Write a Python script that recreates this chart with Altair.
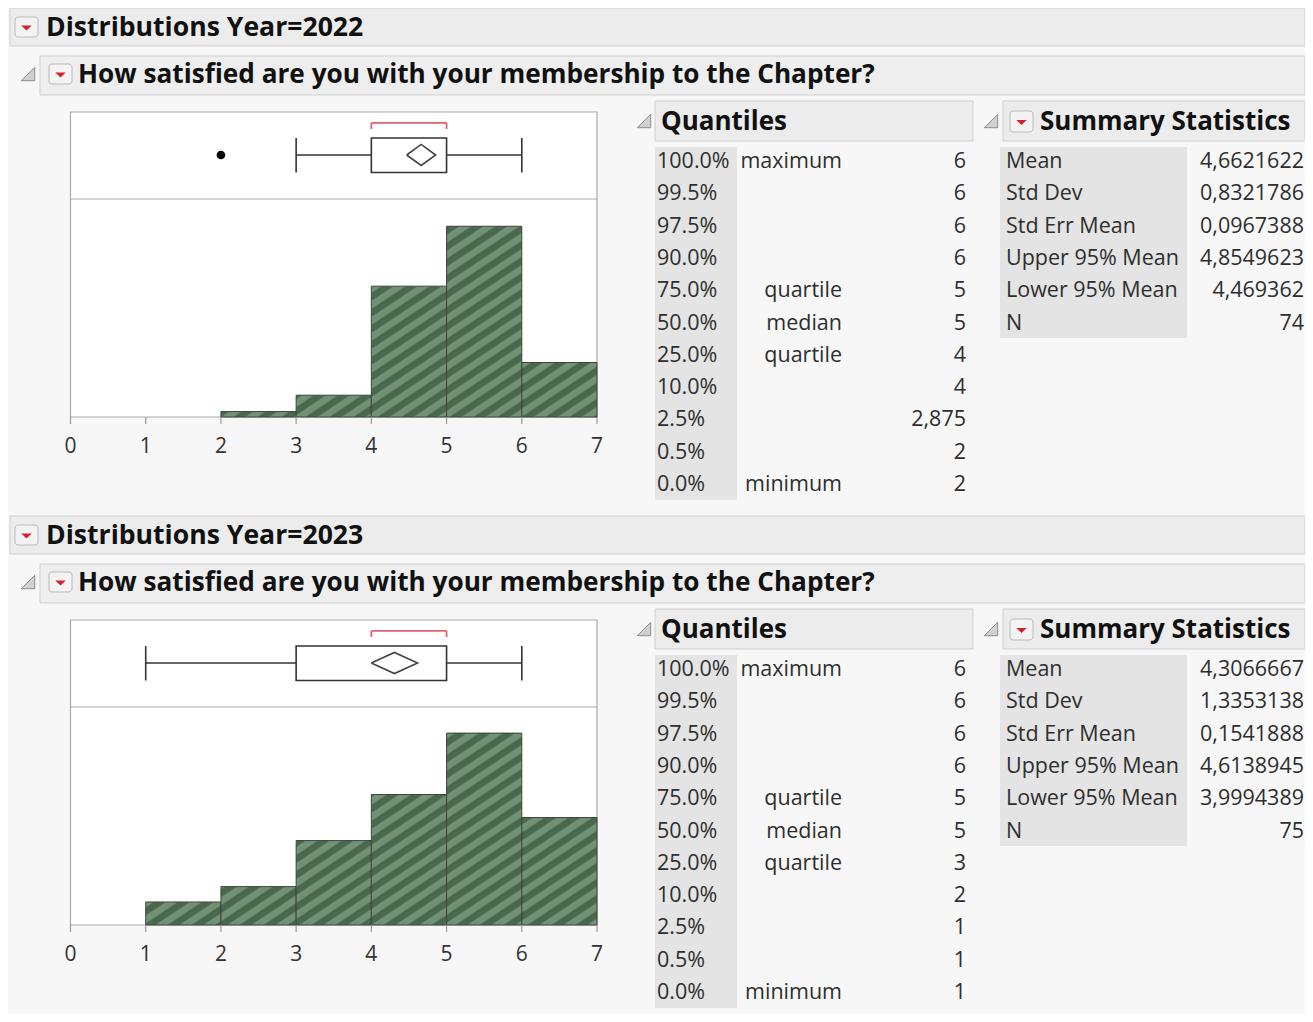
import math
import altair as alt
import pandas as pd

FONT = "Open Sans"

# ---------------- data ----------------
SECTION_TITLES = ["Distributions Year=2022", "Distributions Year=2023"]
QUESTION = "How satisfied are you with your membership to the Chapter?"
QUANT_TITLE = "Quantiles"
STAT_TITLE = "Summary Statistics"
TICK_VALUES = [0, 1, 2, 3, 4, 5, 6, 7]
TICK_LABELS = ["0", "1", "2", "3", "4", "5", "6", "7"]
BIN_LO = [0, 1, 2, 3, 4, 5, 6]
BIN_HI = [1, 2, 3, 4, 5, 6, 7]
COUNTS_2022 = [0, 0, 1, 4, 24, 35, 10]
COUNTS_2023 = [0, 3, 5, 11, 17, 25, 14]
COUNT_AXIS_MAX = [40, 28.4]
QUANT_LEVELS = ["100.0%", "99.5%", "97.5%", "90.0%", "75.0%", "50.0%",
                "25.0%", "10.0%", "2.5%", "0.5%", "0.0%"]
QUANT_NAMES = ["maximum", "", "", "", "quartile", "median", "quartile",
               "", "", "", "minimum"]
QUANT_2022 = ["6", "6", "6", "6", "5", "5", "4", "4", "2,875", "2", "2"]
QUANT_2023 = ["6", "6", "6", "6", "5", "5", "3", "2", "1", "1", "1"]
STAT_NAMES = ["Mean", "Std Dev", "Std Err Mean", "Upper 95% Mean",
              "Lower 95% Mean", "N"]
STAT_2022 = ["4,6621622", "0,8321786", "0,0967388", "4,8549623", "4,469362", "74"]
STAT_2023 = ["4,3066667", "1,3353138", "0,1541888", "4,6138945", "3,9994389", "75"]
# whisker low, Q1, Q3, whisker high
BOX_2022 = [3, 4, 5, 6]
BOX_2023 = [1, 3, 5, 6]
# mean, lower 95%, upper 95%
MEAN_CI_2022 = [4.6621622, 4.469362, 4.8549623]
MEAN_CI_2023 = [4.3066667, 3.9994389, 4.6138945]
SHORTEST_HALF_2022 = [4, 5]
SHORTEST_HALF_2023 = [4, 5]
OUTLIERS_2022 = [2]
OUTLIERS_2023 = []

# ---------------- layout / style ----------------
W, H = 1297, 1006
SEC = 508
BG = "#f7f7f7"
HDR_FILL = "#ececec"
HDR_STROKE = "#cfcfcf"
COL_FILL = "#e4e4e4"
TXT = "#2e2e2e"
PX0, PX1 = 62.5, 589
FR_T, FR_DIV, FR_B = 104, 191, 409
ROW0, ROW10 = 154, 477
ROW_FS = 21.5
HDR_FS = 26.6

DARK = (74, 104, 77)
LIGHT = (113, 146, 116)
P = 24.0
A = 1.5
F_D, F_R, F_L = 0.40, 0.10, 0.40


def one(**kw):
    d = {"k": [0]}
    for k, v in kw.items():
        d[k] = [v]
    return pd.DataFrame(d)


def rect(x, x2, y, y2, fill, stroke=None, sw=1.0, cr=0):
    kw = dict(fill=fill)
    if stroke:
        kw.update(stroke=stroke, strokeWidth=sw)
    else:
        kw.update(strokeWidth=0)
    if cr:
        kw["cornerRadius"] = cr
    return alt.Chart(one()).mark_rect(**kw).encode(
        x=alt.value(x), x2=alt.value(x2), y=alt.value(y), y2=alt.value(y2))


def label(text, x, y, size, bold=False, color=TXT, align="left"):
    return alt.Chart(one(t=text)).mark_text(
        font=FONT, fontSize=size, fontWeight="bold" if bold else "normal",
        color=color, align=align, baseline="middle").encode(
        x=alt.value(x), y=alt.value(y), text="t:N")


def red_icon(x0, y0, x1, y1):
    box = rect(x0, x1, y0, y1, "#f3f3f3", "#b9b9b9", 1, 3)
    tri = alt.Chart(one()).mark_point(
        shape="M-1,-0.5L1,-0.5L0,0.5Z", filled=True, fill="#d3222e",
        strokeWidth=0, size=110, opacity=1).encode(
        x=alt.value((x0 + x1) / 2), y=alt.value((y0 + y1) / 2 + 1))
    return [box, tri]


def disclosure(x, y):
    return alt.Chart(one()).mark_point(
        shape="M1,-1L1,1L-1,1Z", filled=True, fill="#d0d0d0", stroke="#8d8d8d",
        strokeWidth=1, size=180, opacity=1).encode(x=alt.value(x), y=alt.value(y))


def mix(c0, c1, f):
    return tuple(c0[i] + (c1[i] - c0[i]) * f for i in range(3))


def hexc(c):
    return "#%02x%02x%02x" % tuple(int(round(v)) for v in c)


KNOTS = [(0.0, DARK), (F_D * P, DARK), ((F_D + F_R) * P, LIGHT),
         ((F_D + F_R + F_L) * P, LIGHT), (P, DARK)]


def color_at(s):
    m = s % P
    for (s0, c0), (s1, c1) in zip(KNOTS, KNOTS[1:]):
        if s0 <= m <= s1:
            f = 0 if s1 == s0 else (m - s0) / (s1 - s0)
            return hexc(mix(c0, c1, f))
    return hexc(DARK)


def stripe_gradient(X0, Y0, w, h):
    L = w + A * h
    S0 = X0 + A * Y0
    stops = [(0.0, color_at(S0))]
    k = math.floor(S0 / P)
    while k * P <= S0 + L:
        for s0, _ in KNOTS[1:]:
            s = k * P + s0
            if S0 < s < S0 + L:
                stops.append(((s - S0) / L, color_at(s)))
        k += 1
    stops.append((1.0, color_at(S0 + L)))
    dx = L * w / (w * w + A * A * h * h)
    return alt.LinearGradient(
        gradient="linear", x1=0, y1=0, x2=dx, y2=A * dx * h / w,
        stops=[alt.GradientStop(offset=round(o, 5), color=c) for o, c in stops])


def section(idx, counts, ymax, qvals, svals, box, mci, sh, outliers):
    off = idx * SEC
    L = []
    # headers
    L.append(rect(2, W, 0 + off, 38 + off, HDR_FILL, HDR_STROKE))
    L += red_icon(7, 9 + off, 30, 29 + off)
    L.append(label(SECTION_TITLES[idx], 38, 20 + off, HDR_FS, True, "#111111"))
    L.append(rect(32, W, 48 + off, 87 + off, "#eeeeee", HDR_STROKE))
    L.append(disclosure(20, 66 + off))
    L += red_icon(41, 56 + off, 64, 76 + off)
    L.append(label(QUESTION, 70, 67 + off, 26.2, True, "#111111"))

    # plot frame
    L.append(rect(PX0, PX1, FR_T + off, FR_B + off, "#ffffff", "#a9a9a9", 1.2))

    xs = alt.Scale(domain=[0, 7], range=[PX0, PX1], nice=False, zero=False)
    ys = alt.Scale(domain=[0, ymax], range=[FR_B + off, FR_DIV + off],
                   nice=False, zero=False)
    ux = (PX1 - PX0) / 7.0
    uy = (FR_B - FR_DIV) / ymax
    hist = pd.DataFrame({"lo": BIN_LO, "hi": BIN_HI, "n": counts,
                         "base": [0] * len(counts)})
    for i in range(len(counts)):
        if counts[i] <= 0:
            continue
        w = ux * (BIN_HI[i] - BIN_LO[i])
        h = uy * counts[i]
        X0 = PX0 + ux * BIN_LO[i]
        Y0 = FR_B + off - h
        g = stripe_gradient(X0, Y0, w, h)
        L.append(alt.Chart(hist.iloc[[i]]).mark_rect(
            fill=g, stroke="#3c463c", strokeWidth=1).encode(
            x=alt.X("lo:Q", scale=xs, axis=None),
            x2="hi:Q",
            y=alt.Y("n:Q", scale=ys, axis=None),
            y2="base:Q"))

    # divider between box plot and histogram
    L.append(alt.Chart(one()).mark_rule(color="#a9a9a9", strokeWidth=1.2).encode(
        x=alt.value(PX0), x2=alt.value(PX1), y=alt.value(FR_DIV + off)))

    # axis ticks and labels
    ticks = pd.DataFrame({"v": TICK_VALUES, "lab": TICK_LABELS})
    L.append(alt.Chart(ticks).mark_rule(color="#9a9a9a", strokeWidth=1.2).encode(
        x=alt.X("v:Q", scale=xs, axis=None),
        y=alt.value(FR_B + off), y2=alt.value(FR_B + off + 7)))
    L.append(alt.Chart(ticks).mark_text(
        font=FONT, fontSize=21, color="#333333", baseline="middle").encode(
        x=alt.X("v:Q", scale=xs, axis=None),
        y=alt.value(FR_B + off + 30), text="lab:N"))

    # box plot
    bys = alt.Scale(domain=[0, 1], range=[FR_DIV + off, FR_T + off],
                    nice=False, zero=False)
    B_TOP, B_BOT, B_MID, D_H = 0.701, 0.305, 0.506, 0.121
    lo, q1, q3, hi = box
    whisk = pd.DataFrame({"a": [lo, q3], "b": [q1, hi], "y": [B_MID, B_MID]})
    L.append(alt.Chart(whisk).mark_rule(color="#333333", strokeWidth=1.6).encode(
        x=alt.X("a:Q", scale=xs, axis=None), x2="b:Q",
        y=alt.Y("y:Q", scale=bys, axis=None)))
    caps = pd.DataFrame({"v": [lo, hi], "t": [B_TOP, B_TOP], "b": [B_BOT, B_BOT]})
    L.append(alt.Chart(caps).mark_rule(color="#333333", strokeWidth=1.6).encode(
        x=alt.X("v:Q", scale=xs, axis=None),
        y=alt.Y("t:Q", scale=bys, axis=None), y2="b:Q"))
    bx = pd.DataFrame({"q1": [q1], "q3": [q3], "t": [B_TOP], "b": [B_BOT]})
    L.append(alt.Chart(bx).mark_rect(fill="#ffffff", stroke="#333333",
                                     strokeWidth=1.6).encode(
        x=alt.X("q1:Q", scale=xs, axis=None), x2="q3:Q",
        y=alt.Y("t:Q", scale=bys, axis=None), y2="b:Q"))
    mean, lcl, ucl = mci
    dia = pd.DataFrame({
        "x": [lcl, mean, ucl, mean, lcl],
        "y": [B_MID, B_MID + D_H, B_MID, B_MID - D_H, B_MID],
        "o": [0, 1, 2, 3, 4]})
    L.append(alt.Chart(dia).mark_line(color="#444444", strokeWidth=1.6).encode(
        x=alt.X("x:Q", scale=xs, axis=None),
        y=alt.Y("y:Q", scale=bys, axis=None), order="o:Q"))
    br = pd.DataFrame({"a": [sh[0]], "b": [sh[1]], "y": [0.874]})
    L.append(alt.Chart(br).mark_rule(color="#e0606e", strokeWidth=1.8).encode(
        x=alt.X("a:Q", scale=xs, axis=None), x2="b:Q",
        y=alt.Y("y:Q", scale=bys, axis=None)))
    brt = pd.DataFrame({"v": sh, "t": [0.874, 0.874], "b": [0.805, 0.805]})
    L.append(alt.Chart(brt).mark_rule(color="#e0606e", strokeWidth=1.8).encode(
        x=alt.X("v:Q", scale=xs, axis=None),
        y=alt.Y("t:Q", scale=bys, axis=None), y2="b:Q"))
    if outliers:
        od = pd.DataFrame({"v": outliers, "y": [B_MID] * len(outliers)})
        L.append(alt.Chart(od).mark_point(filled=True, color="#000000",
                                          size=75, opacity=1).encode(
            x=alt.X("v:Q", scale=xs, axis=None),
            y=alt.Y("y:Q", scale=bys, axis=None)))

    # tables
    rs = alt.Scale(domain=[0, 10], range=[ROW0 + off, ROW10 + off],
                   nice=False, zero=False)
    L.append(disclosure(636, 113 + off))
    L.append(rect(647, 965, 93 + off, 133 + off, HDR_FILL, HDR_STROKE))
    L.append(label(QUANT_TITLE, 653, 114 + off, 26, True, "#111111"))
    L.append(rect(647, 729, 139 + off, 492 + off, COL_FILL))
    qd = pd.DataFrame({"i": list(range(len(QUANT_LEVELS))), "lev": QUANT_LEVELS,
                       "nm": QUANT_NAMES, "val": qvals})
    for fld, x, al in [("lev", 649, "left"), ("nm", 834, "right"), ("val", 958, "right")]:
        L.append(alt.Chart(qd).mark_text(font=FONT, fontSize=ROW_FS, color=TXT,
                                         align=al, baseline="middle").encode(
            x=alt.value(x), y=alt.Y("i:Q", scale=rs, axis=None), text=f"{fld}:N"))

    L.append(disclosure(983, 113 + off))
    L.append(rect(995, W, 93 + off, 133 + off, HDR_FILL, HDR_STROKE))
    L += red_icon(1002, 103 + off, 1025, 124 + off)
    L.append(label(STAT_TITLE, 1032, 114 + off, 26, True, "#111111"))
    L.append(rect(992, 1179, 139 + off, 330 + off, COL_FILL))
    sd = pd.DataFrame({"i": list(range(len(STAT_NAMES))), "nm": STAT_NAMES,
                       "val": svals})
    for fld, x, al in [("nm", 998, "left"), ("val", 1296, "right")]:
        L.append(alt.Chart(sd).mark_text(font=FONT, fontSize=ROW_FS, color=TXT,
                                         align=al, baseline="middle").encode(
            x=alt.value(x), y=alt.Y("i:Q", scale=rs, axis=None), text=f"{fld}:N"))
    return L


layers = []
layers += section(0, COUNTS_2022, COUNT_AXIS_MAX[0], QUANT_2022, STAT_2022,
                  BOX_2022, MEAN_CI_2022, SHORTEST_HALF_2022, OUTLIERS_2022)
layers += section(1, COUNTS_2023, COUNT_AXIS_MAX[1], QUANT_2023, STAT_2023,
                  BOX_2023, MEAN_CI_2023, SHORTEST_HALF_2023, OUTLIERS_2023)

chart = alt.layer(*layers).resolve_scale(
    x="independent", y="independent"
).properties(
    width=W, height=H, background=BG, padding=0,
    autosize=alt.AutoSizeParams(type="none")
).configure_view(strokeWidth=0)

chart.save("out.html", embed_options={"renderer": "svg", "actions": False})
